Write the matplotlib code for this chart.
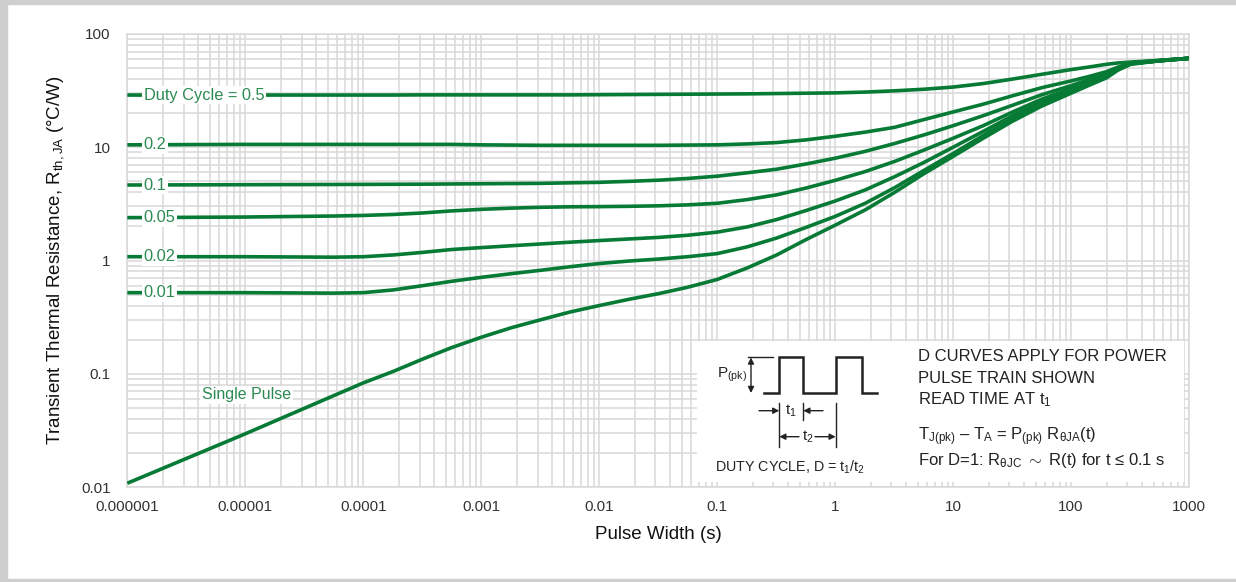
import numpy as np
import matplotlib
matplotlib.use("Agg")
import matplotlib.pyplot as plt
from matplotlib.ticker import LogLocator, NullFormatter
from matplotlib.patches import Rectangle

plt.rcParams['font.family'] = ['Liberation Sans', 'DejaVu Sans']
plt.rcParams['mathtext.fontset'] = 'custom'
plt.rcParams['mathtext.rm'] = 'Liberation Sans'
plt.rcParams['mathtext.it'] = 'Liberation Sans:italic'

# DATA
pulse_width = [1e-6, 1e-5, 5.6e-5, 1e-4, 1.8e-4, 3.2e-4, 5.6e-4, 1e-3, 1.8e-3, 3.2e-3,
               5.6e-3, 1e-2, 1.8e-2, 3.2e-2, 5.6e-2, 0.1, 0.18, 0.32, 0.56, 1,
               1.8, 3.2, 5.6, 10, 18, 32, 56, 100, 140, 200,
               250, 320, 560, 1000]
r_d050 = [28.9, 28.9, 28.9, 28.9, 28.9, 29.0, 29.0, 29.0, 29.0, 29.0,
          29.0, 29.1, 29.2, 29.3, 29.4, 29.5, 29.6, 29.8, 30.0, 30.2,
          30.7, 31.5, 32.5, 34.0, 36.5, 40.0, 44.0, 48.5, 51.0, 54.0,
          55.5, 56.5, 58.5, 61.0]
r_d020 = [10.5, 10.6, 10.6, 10.6, 10.6, 10.6, 10.6, 10.5, 10.45, 10.4,
          10.4, 10.4, 10.4, 10.4, 10.45, 10.5, 10.7, 11.0, 11.6, 12.5,
          13.6, 15.0, 17.5, 20.5, 24.0, 28.5, 33.5, 38.5, 42.0, 46.5,
          51.0, 55.5, 58.5, 61.0]
r_d010 = [4.64, 4.67, 4.69, 4.70, 4.71, 4.72, 4.74, 4.76, 4.78, 4.80,
          4.85, 4.90, 5.0, 5.12, 5.3, 5.55, 5.95, 6.4, 7.1, 8.0,
          9.2, 10.8, 12.8, 15.5, 19.0, 23.5, 29.0, 35.0, 39.5, 44.5,
          50.0, 55.0, 58.0, 61.0]
r_d005 = [2.39, 2.42, 2.47, 2.50, 2.55, 2.63, 2.74, 2.83, 2.90, 2.95,
          2.98, 2.99, 3.01, 3.04, 3.1, 3.2, 3.45, 3.8, 4.35, 5.1,
          6.1, 7.5, 9.4, 12.0, 15.5, 20.5, 26.5, 33.0, 38.0, 43.5,
          49.5, 55.0, 58.0, 61.0]
r_d002 = [1.08, 1.08, 1.07, 1.08, 1.12, 1.18, 1.25, 1.30, 1.35, 1.40,
          1.45, 1.50, 1.55, 1.60, 1.67, 1.78, 1.98, 2.3, 2.75, 3.35,
          4.2, 5.5, 7.3, 10.0, 13.8, 19.0, 25.0, 32.0, 37.0, 42.5,
          49.0, 55.0, 58.0, 61.0]
r_d001 = [0.52, 0.52, 0.515, 0.52, 0.55, 0.60, 0.655, 0.71, 0.765, 0.82,
          0.88, 0.94, 0.99, 1.03, 1.08, 1.15, 1.32, 1.58, 1.95, 2.45,
          3.2, 4.4, 6.2, 8.8, 12.7, 18.0, 24.0, 31.0, 36.0, 42.0,
          48.5, 54.5, 58.0, 61.0]
r_single = [0.0108, 0.0295, 0.064, 0.083, 0.105, 0.135, 0.17, 0.21, 0.255, 0.30,
            0.35, 0.40, 0.455, 0.51, 0.58, 0.68, 0.86, 1.12, 1.52, 2.05,
            2.8, 4.0, 5.8, 8.3, 12.0, 17.0, 23.0, 30.0, 35.0, 41.0,
            48.0, 54.0, 58.0, 61.0]

curves = [r_d050, r_d020, r_d010, r_d005, r_d002, r_d001, r_single]
curve_labels = ['Duty Cycle = 0.5', '0.2', '0.1', '0.05', '0.02', '0.01', None]

x_ticks = [1e-6, 1e-5, 1e-4, 1e-3, 1e-2, 0.1, 1, 10, 100, 1000]
x_ticklabels = ['0.000001', '0.00001', '0.0001', '0.001', '0.01', '0.1', '1', '10', '100', '1000']
y_ticks = [0.01, 0.1, 1, 10, 100]
y_ticklabels = ['0.01', '0.1', '1', '10', '100']

line_col = '#077a35'
text_col = '#2b8a52'
grid_col = '#d9d9d9'
ink = '#222222'

fig = plt.figure(figsize=(12.36, 5.82), dpi=100)
ax = fig.add_axes([0.103, 0.1632, 0.859, 0.7784])

for r in curves:
    ax.plot(pulse_width, r, color=line_col, lw=2.6, zorder=3,
            solid_capstyle='butt', solid_joinstyle='round')

# duty cycle labels sit on the flat part of each curve
for r, lab in zip(curves, curve_labels):
    if lab is None:
        continue
    ax.text(1.38e-6, r[0], lab, color=text_col, fontsize=11.8, ha='left', va='center',
            zorder=4, bbox=dict(facecolor='white', edgecolor='none', pad=1.2))
ax.text(4.3e-6, 0.065, 'Single Pulse', color=text_col, fontsize=11.5, ha='left', va='center',
        zorder=4, bbox=dict(facecolor='white', edgecolor='none', pad=1.2))

ax.set_xscale('log')
ax.set_yscale('log')
ax.set_xlim(1e-6, 1000)
ax.set_ylim(0.01, 100)
ax.set_xticks(x_ticks, x_ticklabels)
ax.set_yticks(y_ticks, y_ticklabels)
ax.xaxis.set_minor_locator(LogLocator(base=10, subs=range(2, 10), numticks=30))
ax.yaxis.set_minor_locator(LogLocator(base=10, subs=range(2, 10), numticks=30))
ax.xaxis.set_minor_formatter(NullFormatter())
ax.yaxis.set_minor_formatter(NullFormatter())
ax.tick_params(which='both', length=0, labelsize=11, colors='#333333')
ax.tick_params(axis='x', pad=9)
ax.tick_params(axis='y', pad=12)
ax.grid(True, which='both', color=grid_col, lw=1.1, zorder=0)
ax.set_axisbelow(True)
for s in ax.spines.values():
    s.set_color(grid_col)
    s.set_linewidth(1.1)

ax.set_xlabel('Pulse Width (s)', fontsize=13.5, color='#111111', labelpad=9)
ax.set_ylabel(r'Transient Thermal Resistance, R$_{\mathregular{th,JA}}$ (°C/W)',
              fontsize=13.5, color='#111111', labelpad=11)

# inset explaining the duty cycle (pixel-like coordinates of the box)
ins = fig.add_axes([697 / 1236, 1 - 482 / 582, 487 / 1236, 141 / 582])
ins.set_xlim(697, 1184)
ins.set_ylim(482, 341)
ins.set_xticks([])
ins.set_yticks([])
for s in ins.spines.values():
    s.set_visible(False)
ins.set_facecolor('white')

ins.plot([764, 779.3, 779.3, 803.3, 803.3, 835.7, 835.7, 861.7, 861.7, 877],
         [393.3, 393.3, 357.3, 357.3, 393.3, 393.3, 357.3, 357.3, 393.3, 393.3],
         color=ink, lw=1.8, solid_joinstyle='miter')
ins.plot([748, 773], [357.3, 357.3], color=ink, lw=1.0)
ins.annotate('', xy=(751, 357.5), xytext=(751, 393),
             arrowprops=dict(arrowstyle='<|-|>', color=ink, lw=1.0, mutation_scale=9, shrinkA=0, shrinkB=0))
ins.text(747, 375, r'P$_{\mathregular{(pk)}}$', fontsize=11, ha='right', va='center', color=ink)
# dimension lines
ins.plot([779.3, 779.3], [403, 447], color=ink, lw=1.0)
ins.plot([803.3, 803.3], [403, 420], color=ink, lw=1.0)
ins.plot([835.7, 835.7], [403, 447], color=ink, lw=1.0)
am = dict(arrowstyle='-|>', color=ink, lw=1.0, mutation_scale=9, shrinkA=0, shrinkB=0)
ins.annotate('', xy=(779.3, 410.7), xytext=(759, 410.7), arrowprops=am)
ins.annotate('', xy=(803.3, 410.7), xytext=(823, 410.7), arrowprops=am)
ins.text(791.3, 410.7, r't$_{\mathregular{1}}$', fontsize=11, ha='center', va='center', color=ink)
ins.annotate('', xy=(779.3, 436.7), xytext=(799, 436.7), arrowprops=am)
ins.annotate('', xy=(835.7, 436.7), xytext=(815, 436.7), arrowprops=am)
ins.text(807.5, 436.7, r't$_{\mathregular{2}}$', fontsize=11, ha='center', va='center', color=ink)
ins.text(790, 467, r'DUTY CYCLE, D = t$_{\mathregular{1}}$/t$_{\mathregular{2}}$', fontsize=10.3,
         ha='center', va='center', color=ink)
note_kw = dict(fontsize=12, ha='left', va='center', color=ink)
ins.text(918, 356.7, 'D CURVES APPLY FOR POWER', **note_kw)
ins.text(918, 378.3, 'PULSE TRAIN SHOWN', **note_kw)
ins.text(918, 400, r'READ TIME AT t$_{\mathregular{1}}$', **note_kw)
ins.text(918, 436.7, r'T$_{\mathregular{J(pk)}}$ – T$_{\mathregular{A}}$ = P$_{\mathregular{(pk)}}$ '
         r'R$_{\mathregular{θJA}}$(t)', **note_kw)
ins.text(918, 460, r'For D=1: R$_{\mathregular{θJC}}$ $\sim$ R(t) for t ≤ 0.1 s', **note_kw)

# light grey frame of the original screenshot
fig.patches.append(Rectangle((0, 0), 7 / 1236, 1, transform=fig.transFigure, color='#cfcfcf', zorder=0))
fig.patches.append(Rectangle((0, 1 - 4 / 582), 1, 4 / 582, transform=fig.transFigure, color='#cfcfcf', zorder=0))
fig.patches.append(Rectangle((0, 0), 1, 3 / 582, transform=fig.transFigure, color='#cfcfcf', zorder=0))

fig.savefig('out.png', dpi=100)
